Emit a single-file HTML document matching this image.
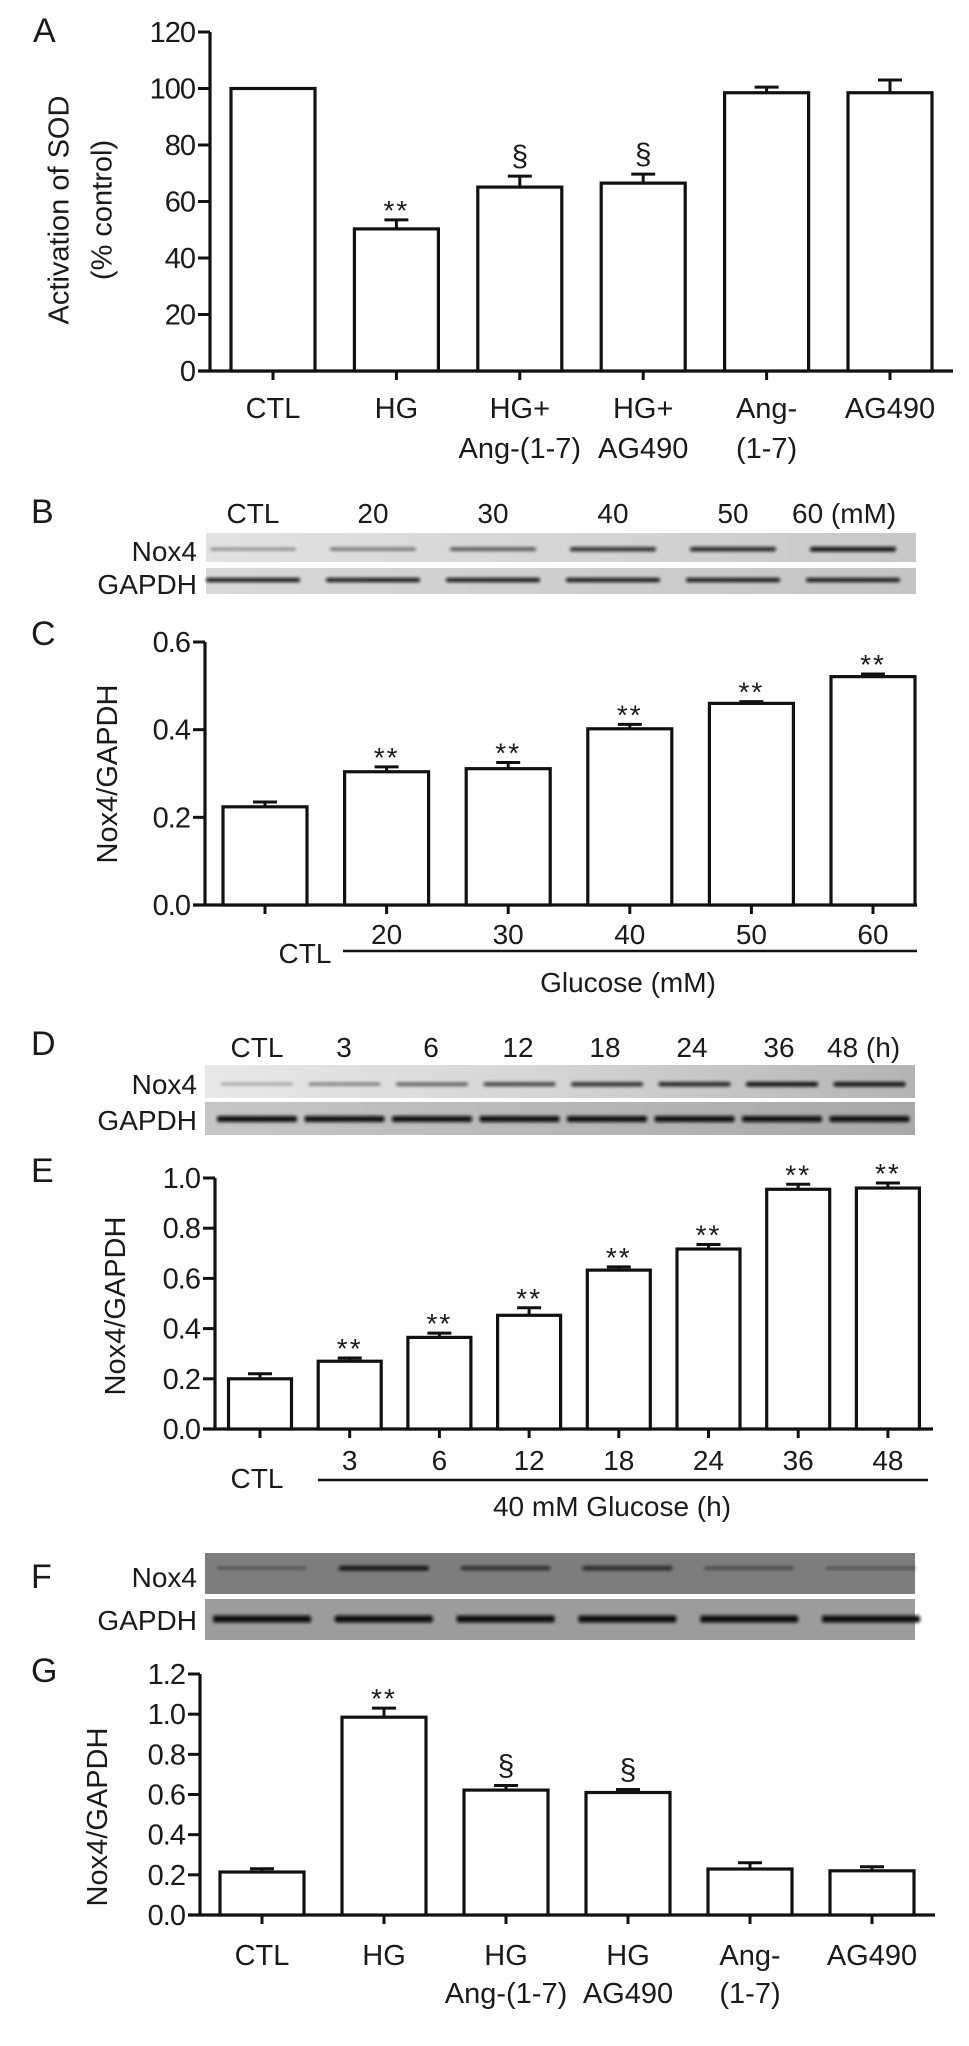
<!DOCTYPE html>
<html><head><meta charset="utf-8">
<style>
html,body{margin:0;padding:0;background:#fff;}
svg{display:block;}
text{font-family:"Liberation Sans",Arial,sans-serif;fill:#1a1a1a;}
</style></head>
<body>
<svg id="fig" width="969" height="2046" viewBox="0 0 969 2046" xmlns="http://www.w3.org/2000/svg">
<defs>
<filter id="blur" x="-10%" y="-200%" width="120%" height="500%"><feGaussianBlur stdDeviation="1.6"/></filter>
<linearGradient id="bNox" x1="0" x2="1"><stop offset="0" stop-color="#e2e2e2"/><stop offset="1" stop-color="#c8c8c8"/></linearGradient>
<linearGradient id="bGap" x1="0" x2="1"><stop offset="0" stop-color="#d8d8d8"/><stop offset="1" stop-color="#c4c4c4"/></linearGradient>
<linearGradient id="dNox" x1="0" x2="1"><stop offset="0" stop-color="#e8e8e8"/><stop offset="0.5" stop-color="#d4d4d4"/><stop offset="1" stop-color="#b4b4b4"/></linearGradient>
<linearGradient id="dGap" x1="0" x2="1"><stop offset="0" stop-color="#c6c6c6"/><stop offset="1" stop-color="#a8a8a8"/></linearGradient>
</defs>
</svg>
<script>
// ---------- Panel A data ----------
const catsA = [["CTL"],["HG"],["HG+","Ang-(1-7)"],["HG+","AG490"],["Ang-","(1-7)"],["AG490"]];
const valsA = [100, 50.3, 65.1, 66.5, 98.5, 98.5];
const errsA = [0, 3.2, 3.9, 3.2, 2.0, 4.5];
const marksA = ["", "**", "§", "§", "", ""];
const ticksA = [0, 20, 40, 60, 80, 100, 120];
// ---------- Panel B (blot) ----------
const lanesB = ["CTL","20","30","40","50","60 (mM)"];
const noxB = [0.35, 0.5, 0.65, 0.85, 0.9, 1.0];
// ---------- Panel C data ----------
const catsC = ["", "20", "30", "40", "50", "60"];
const valsC = [0.224, 0.304, 0.311, 0.402, 0.460, 0.521];
const errsC = [0.011, 0.011, 0.014, 0.010, 0.004, 0.006];
const marksC = ["", "**", "**", "**", "**", "**"];
const ticksC = [0.0, 0.2, 0.4, 0.6];
// ---------- Panel D (blot) ----------
const lanesD = ["CTL","3","6","12","18","24","36","48 (h)"];
const noxD = [0.25, 0.45, 0.6, 0.75, 0.85, 0.9, 1.0, 1.0];
// ---------- Panel E data ----------
const catsE = ["", "3", "6", "12", "18", "24", "36", "48"];
const valsE = [0.20, 0.27, 0.365, 0.453, 0.633, 0.717, 0.955, 0.96];
const errsE = [0.02, 0.013, 0.017, 0.03, 0.013, 0.018, 0.02, 0.02];
const marksE = ["", "**", "**", "**", "**", "**", "**", "**"];
const ticksE = [0.0, 0.2, 0.4, 0.6, 0.8, 1.0];
// ---------- Panel F (blot) ----------
const noxF = [0.3, 1.0, 0.75, 0.8, 0.45, 0.35];
// ---------- Panel G data ----------
const catsG = [["CTL"],["HG"],["HG","Ang-(1-7)"],["HG","AG490"],["Ang-","(1-7)"],["AG490"]];
const valsG = [0.214, 0.985, 0.622, 0.61, 0.229, 0.22];
const errsG = [0.016, 0.045, 0.023, 0.015, 0.031, 0.02];
const marksG = ["", "**", "§", "§", "", ""];
const ticksG = [0.0, 0.2, 0.4, 0.6, 0.8, 1.0, 1.2];

const NS = "http://www.w3.org/2000/svg";
const svg = document.getElementById("fig");
function mk(tag, attrs, parent) {
  const e = document.createElementNS(NS, tag);
  for (const k in attrs) e.setAttribute(k, attrs[k]);
  (parent || svg).appendChild(e);
  return e;
}
function txt(s, x, y, size, anchor, parent, extra) {
  const t = mk("text", Object.assign({x: x, y: y, "font-size": size, "text-anchor": anchor || "middle"}, extra || {}), parent);
  t.textContent = s;
  return t;
}

function barChart(cfg) {
  const g = mk("g", {});
  
  
  const yScale = v => cfg.y0 - (v / cfg.max) * (cfg.y0 - cfg.yTop);
  const xScale = i => cfg.c0 + i * cfg.step;
  // y axis
  const ax = mk("line", {x1: cfg.ax, y1: cfg.yTop, x2: cfg.ax, y2: cfg.y0 + 1.5, stroke: "#111", "stroke-width": 3.2}, g);
  
  
  cfg.ticks.forEach(t => {
    const y = yScale(t);
    const tk = mk("line", {x1: cfg.ax - 12, y1: y, x2: cfg.ax, y2: y, stroke: "#111", "stroke-width": 3}, g);
    
    
    const lb = txt(cfg.fmt(t), cfg.ax - 15, y + 10, 29, "end", g, {"letter-spacing": "-1"});
    
    
  });
  // x axis
  const xa = mk("line", {x1: cfg.ax - 12, y1: cfg.y0, x2: cfg.xEnd, y2: cfg.y0, stroke: "#111", "stroke-width": 3.2}, g);
  
  
  cfg.vals.forEach((v, i) => {
    const cx = xScale(i), w = cfg.bw, top = yScale(v);
    const b = mk("rect", {x: cx - w / 2, y: top, width: w, height: cfg.y0 - top, fill: "#fff", stroke: "#111", "stroke-width": 3.2}, g);
    
    
    const tk = mk("line", {x1: cx, y1: cfg.y0, x2: cx, y2: cfg.y0 + 9, stroke: "#111", "stroke-width": 3}, g);
    
    
    const e = cfg.errs[i];
    if (e > 0) {
      const ey = yScale(v + e);
      const el = mk("path", {d: `M${cx} ${top} V${ey} M${cx - 12} ${ey} H${cx + 12}`, stroke: "#111", "stroke-width": 3, fill: "none"}, g);
      
      
    }
    const m = cfg.marks[i];
    if (m) {
      const my = yScale(v + e) - 10;
      let t;
      if (m === "**") t = txt("**", cx, my + 10, 28, "middle", g, {fill: "#777", "letter-spacing": "2"});
      else t = txt("§", cx, my, 30, "middle", g, {fill: "#555", "font-family": "Liberation Serif, serif"});
      
      
    }
  });
  return {g, xScale, yScale};
}

function label(letter, x, y) {
  const t = txt(letter, x, y, 34, "start");
  
  
}
function yTitle(lines, cx, cy) {
  const g = mk("g", {transform: `translate(${cx},${cy}) rotate(-90)`});
  
  
  lines.forEach((s, i) => txt(s, 0, (i - (lines.length - 1) / 2) * 43 + 10, 29, "middle", g));
}
function blot(name, x, y1, h1, y2, h2, fill1, fill2, lanes0, laneStep, laneW, nox, noxCol, gapThick, noxY, gapY) {
  const g = mk("g", {});
  
  
  mk("rect", {x: x, y: y1, width: 710, height: h1, fill: fill1}, g);
  mk("rect", {x: x, y: y2, width: 710, height: h2, fill: fill2}, g);
  nox.forEach((v, i) => {
    const cx = lanes0 + i * laneStep;
    const b = mk("rect", {x: cx - laneW / 2, y: noxY - (1 + 3 * v) / 2, width: laneW, height: 1 + 3.5 * v, rx: 2, fill: noxCol, opacity: 0.25 + 0.75 * v, filter: "url(#blur)"}, g);
    
    
    const c = mk("rect", {x: cx - laneW / 2 - 4, y: gapY - gapThick / 2, width: laneW + 8, height: gapThick, rx: 2, fill: "#111", filter: "url(#blur)"}, g);
    
    
  });
  return g;
}
const f1 = v => v.toFixed(1);

// ===== Panel A =====
label("A", 33, 42);
yTitle(["Activation of SOD", "(% control)"], 80, 210);
barChart({name: "chart-a-sod", ax: 210, y0: 371, yTop: 32, max: 120, ticks: ticksA, fmt: v => String(v),
  c0: 273, step: 123.4, bw: 84, xEnd: 953, vals: valsA, errs: errsA, marks: marksA});
catsA.forEach((c, i) => c.forEach((s, j) => {
  const t = txt(s, 273 + i * 123.4, 418 + j * 40, 29, "middle");
  
  
}));

// ===== Panel B =====
label("B", 31, 523);
lanesB.forEach((s, i) => {
  const t = txt(s, i === 5 ? 792 : 253 + i * 120, 523, 28, i === 5 ? "start" : "middle");
  
  
});
blot("blot-b", 206, 533, 29, 568, 26, "url(#bNox)", "url(#bGap)", 253, 120, 86, noxB, "#111", 4, 549, 580);
txt("Nox4", 197, 561, 28, "end");
txt("GAPDH", 197, 594, 28, "end");

// ===== Panel C =====
label("C", 31, 645);
yTitle(["Nox4/GAPDH"], 107, 774);
barChart({name: "chart-c-glucose-dose", ax: 205, y0: 905, yTop: 642, max: 0.6, ticks: ticksC, fmt: f1,
  c0: 265, step: 121.6, bw: 84, xEnd: 917, vals: valsC, errs: errsC, marks: marksC});
catsC.forEach((s, i) => { if (s) { const t = txt(s, 265 + i * 121.6, 944, 28, "middle");   } });
txt("CTL", 305, 963, 28, "middle");
mk("line", {x1: 343, y1: 951, x2: 917, y2: 951, stroke: "#111", "stroke-width": 2.5});
txt("Glucose (mM)", 628, 992, 28, "middle");

// ===== Panel D =====
label("D", 31, 1055);
lanesD.forEach((s, i) => {
  const t = txt(s, i === 7 ? 827 : 257 + i * 87, 1057, 28, i === 7 ? "start" : "middle");
  
  
});
blot("blot-d", 205, 1065, 33, 1102, 33, "url(#dNox)", "url(#dGap)", 257, 87.5, 72, noxD, "#111", 6, 1084, 1119);
txt("Nox4", 197, 1094, 28, "end");
txt("GAPDH", 197, 1130, 28, "end");

// ===== Panel E =====
label("E", 31, 1182);
yTitle(["Nox4/GAPDH"], 115, 1306);
barChart({name: "chart-e-glucose-time", ax: 215, y0: 1429, yTop: 1178, max: 1.0, ticks: ticksE, fmt: f1,
  c0: 260, step: 89.7, bw: 63, xEnd: 933, vals: valsE, errs: errsE, marks: marksE});
catsE.forEach((s, i) => { if (s) { const t = txt(s, 260 + i * 89.7, 1470, 28, "middle");   } });
txt("CTL", 257, 1488, 28, "middle");
mk("line", {x1: 318, y1: 1480, x2: 928, y2: 1480, stroke: "#111", "stroke-width": 2.5});
txt("40 mM Glucose (h)", 612, 1516, 28, "middle");

// ===== Panel F =====
label("F", 31, 1588);
blot("blot-f", 205, 1553, 41, 1599, 41, "#7d7d7d", "#9c9c9c", 262, 121.8, 90, noxF, "#111", 7, 1568, 1619);
txt("Nox4", 197, 1587, 28, "end");
txt("GAPDH", 197, 1630, 28, "end");

// ===== Panel G =====
label("G", 31, 1682);
yTitle(["Nox4/GAPDH"], 97, 1817);
barChart({name: "chart-g-treatment", ax: 200, y0: 1915, yTop: 1674, max: 1.2, ticks: ticksG, fmt: f1,
  c0: 262, step: 122, bw: 84, xEnd: 935, vals: valsG, errs: errsG, marks: marksG});
catsG.forEach((c, i) => c.forEach((s, j) => {
  const t = txt(s, 262 + i * 122, 1965 + j * 38, 29, "middle");
  
  
}));
</script>
</body></html>
